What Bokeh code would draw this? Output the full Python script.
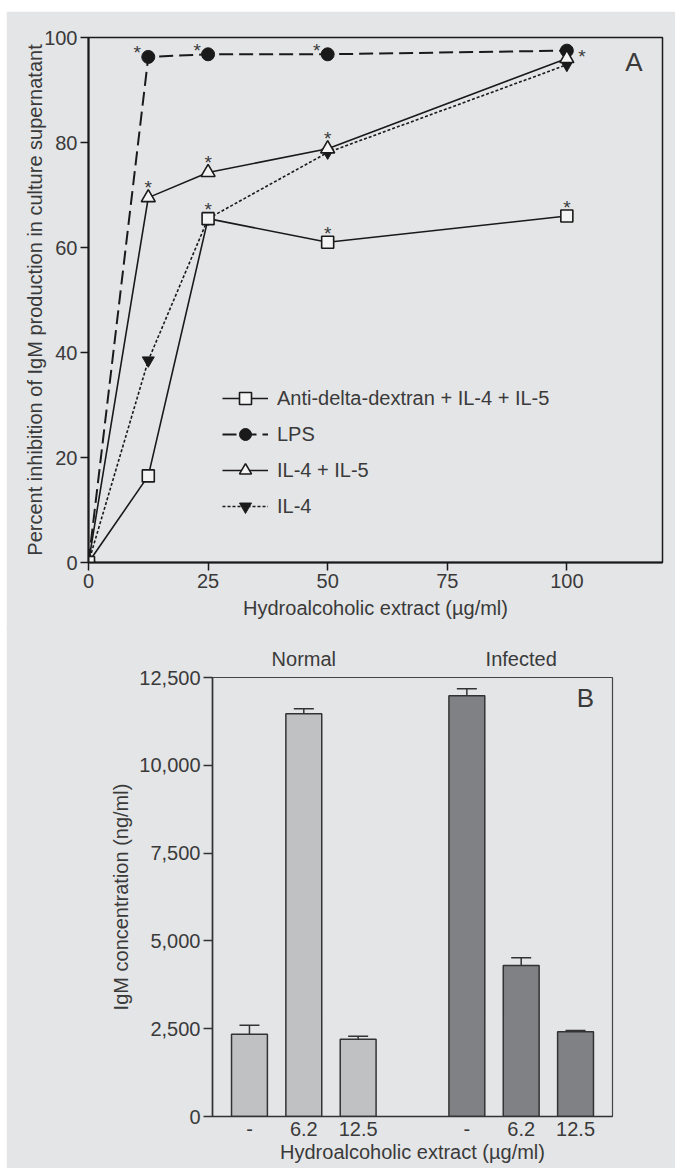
from bokeh.plotting import figure
from bokeh.models import (Range1d, FixedTicker, NumeralTickFormatter, Legend, LegendItem,
                          Label, Whisker, TeeHead, ColumnDataSource, LinearAxis)
from bokeh.embed import file_html
from bokeh.resources import INLINE
from bokeh.core.properties import value

# ---------------- Panel A data ----------------
doses_a = [0, 12.5, 25, 50, 100]
anti_delta = [0, 16.5, 65.5, 61.0, 66.0]
lps = [0, 96.3, 96.8, 96.8, 97.5]
il4_il5 = [0, 69.5, 74.3, 78.8, 96.0]
il4 = [0, 38.5, 65.5, 78.1, 94.8]
series_names = ["Anti-delta-dextran + IL-4 + IL-5", "LPS", "IL-4 + IL-5", "IL-4"]
stars_anti = [25, 50, 100]
stars_lps_left = [12.5, 25, 50]
stars_lps_right = [100]
stars_il45 = [12.5, 25, 50]
x_ticks_a = [0, 25, 50, 75, 100]
y_ticks_a = [0, 20, 40, 60, 80, 100]

# ---------------- Panel B data ----------------
groups = ["Normal", "Infected"]
dose_labels = ["-", "6.2", "12.5"]
normal_means = [2340, 11470, 2200]
normal_err = [260, 140, 85]
infected_means = [11980, 4300, 2410]
infected_err = [200, 220, 40]
y_ticks_b = [0, 2500, 5000, 7500, 10000, 12500]

FONT = "Liberation Sans"
BG = "#e4e5e7"
TXT = "#3a3a3a"
INK = "#1a1a1a"


def style_axis(ax, tick_out=8, color=INK, width=2):
    ax.axis_line_color = color
    ax.axis_line_width = width
    ax.major_tick_line_color = color
    ax.major_tick_line_width = 1.5
    ax.major_tick_in = 0
    ax.major_tick_out = tick_out
    ax.minor_tick_line_color = None
    ax.major_label_text_font = FONT
    ax.major_label_text_font_size = "20px"
    ax.major_label_text_color = TXT
    ax.axis_label_text_font = FONT
    ax.axis_label_text_font_size = "20px"
    ax.axis_label_text_font_style = "normal"
    ax.axis_label_text_color = TXT


# ================= Panel A =================
pA = figure(width=669, height=619, x_range=Range1d(0, 120), y_range=Range1d(0, 100),
            output_backend="svg", toolbar_location=None,
            min_border_left=82, min_border_right=13, min_border_top=26, min_border_bottom=68)
pA.margin = (11, 0, -4, 6)
pA.background_fill_color = BG
pA.border_fill_color = BG
pA.outline_line_color = INK
pA.outline_line_width = 1.5
pA.grid.visible = False

style_axis(pA.xaxis[0])
style_axis(pA.yaxis[0])
pA.xaxis.ticker = FixedTicker(ticks=x_ticks_a)
pA.yaxis.ticker = FixedTicker(ticks=y_ticks_a)
pA.xaxis.axis_label = "Hydroalcoholic extract (µg/ml)"
pA.yaxis.axis_label = "Percent inhibition of IgM production in culture supernatant"
pA.xaxis.major_label_standoff = 3
pA.xaxis.axis_label_standoff = 6
pA.yaxis.major_label_standoff = 3
pA.yaxis.axis_label_standoff = -5

lw = 1.6
l_anti = pA.line(doses_a, anti_delta, line_color=INK, line_width=lw)
l_lps = pA.line(doses_a, lps, line_color=INK, line_width=2, line_dash="14 6")
l_il45 = pA.line(doses_a, il4_il5, line_color=INK, line_width=lw)
l_il4 = pA.line(doses_a, il4, line_color=INK, line_width=lw, line_dash="3 2")

m_il4 = pA.scatter(doses_a, il4, marker="inverted_triangle", size=12,
                   fill_color=INK, line_color=INK)
m_lps = pA.scatter(doses_a, lps, marker="circle", size=13, fill_color=INK, line_color=INK)
m_il45 = pA.scatter(doses_a, il4_il5, marker="triangle", size=14, fill_color="#f4f4f4",
                    line_color=INK, line_width=lw)
m_anti = pA.scatter(doses_a, anti_delta, marker="square", size=12, fill_color="#f4f4f4",
                    line_color=INK, line_width=lw)


def star_y(series, xs):
    return [series[doses_a.index(x)] for x in xs]


star_sets = [
    (stars_anti, anti_delta, 0, -9),
    (stars_il45, il4_il5, 0, -10),
    (stars_lps_left, lps, -11, -4),
    (stars_lps_right, lps, 15, 6),
]
for xs, ser, dx, dy in star_sets:
    pA.text(x=xs, y=star_y(ser, xs), text=["*"] * len(xs), x_offset=dx, y_offset=dy,
            text_align="center", text_baseline="middle", text_font=value(FONT),
            text_font_size="19px", text_color=TXT)

legend = Legend(items=[
    LegendItem(label=series_names[0], renderers=[l_anti, m_anti]),
    LegendItem(label=series_names[1], renderers=[l_lps, m_lps]),
    LegendItem(label=series_names[2], renderers=[l_il45, m_il45]),
    LegendItem(label=series_names[3], renderers=[l_il4, m_il4]),
], location=(134, 41))
legend.background_fill_alpha = 0
legend.border_line_color = None
legend.padding = 0
legend.margin = 0
legend.spacing = 6
legend.glyph_width = 46
legend.glyph_height = 30
legend.label_height = 20
legend.label_standoff = 9
legend.label_text_font = FONT
legend.label_text_font_size = "20px"
legend.label_text_color = TXT
pA.add_layout(legend)

pA.add_layout(Label(x=114, y=95.3, text="A", text_align="center", text_baseline="middle",
                    text_font=FONT, text_font_size="26px", text_color=TXT))

# ================= Panel B =================
pB = figure(width=669, height=542, x_range=Range1d(0.32, 7.68), y_range=Range1d(0, 12500),
            output_backend="svg", toolbar_location=None,
            min_border_left=206, min_border_right=63, min_border_top=51, min_border_bottom=52)
pB.margin = (0, 0, 0, 6)
pB.background_fill_color = BG
pB.border_fill_color = BG
pB.outline_line_color = "#444444"
pB.outline_line_width = 1.2
pB.grid.visible = False

style_axis(pB.xaxis[0], tick_out=0, color="#333333", width=1.6)
style_axis(pB.yaxis[0], tick_out=9, color="#333333", width=1.6)

means_all = [normal_means, infected_means]
errs_all = [normal_err, infected_err]
fills = ["#c0c1c3", "#808185"]

xs_b, tops_b, ups_b, cols_b, tick_map, group_map = [], [], [], [], {}, {}
for gi, g in enumerate(groups):
    group_map[gi * 4 + 2] = g
    for di, d in enumerate(dose_labels):
        xpos = gi * 4 + di + 1
        xs_b.append(xpos)
        tops_b.append(means_all[gi][di])
        ups_b.append(means_all[gi][di] + errs_all[gi][di])
        cols_b.append(fills[gi])
        tick_map[xpos] = d

src_b = ColumnDataSource(data=dict(x=xs_b, top=tops_b, upper=ups_b, color=cols_b))
pB.vbar(x="x", top="top", bottom=0, width=0.66, fill_color="color", line_color="#333333",
        line_width=1.5, source=src_b)
pB.add_layout(Whisker(base="x", lower="top", upper="upper", source=src_b, lower_head=None,
                      upper_head=TeeHead(size=20, line_color="#333333", line_width=1.5),
                      line_color="#333333", line_width=1.5))

pB.xaxis.ticker = FixedTicker(ticks=xs_b)
pB.xaxis.major_label_overrides = tick_map
pB.xaxis.axis_label = "Hydroalcoholic extract (µg/ml)"
pB.xaxis.major_label_standoff = 5
pB.xaxis.axis_label_standoff = 2
pB.yaxis.ticker = FixedTicker(ticks=y_ticks_b)
pB.yaxis.formatter = NumeralTickFormatter(format="0,0")
pB.yaxis.axis_label = "IgM concentration (ng/ml)"
pB.yaxis.major_label_standoff = 3
pB.yaxis.axis_label_standoff = 4

# group names above the frame
top_axis = LinearAxis(ticker=FixedTicker(ticks=list(group_map.keys())),
                      major_label_overrides=group_map)
style_axis(top_axis, tick_out=0)
top_axis.axis_line_color = None
top_axis.major_tick_line_color = None
top_axis.major_label_standoff = 8
pB.add_layout(top_axis, "above")

pB.add_layout(Label(x=7.18, y=11930, text="B", text_align="center", text_baseline="middle",
                    text_font=FONT, text_font_size="26px", text_color=TXT))

open("out.html", "w").write(file_html([pA, pB], INLINE))
